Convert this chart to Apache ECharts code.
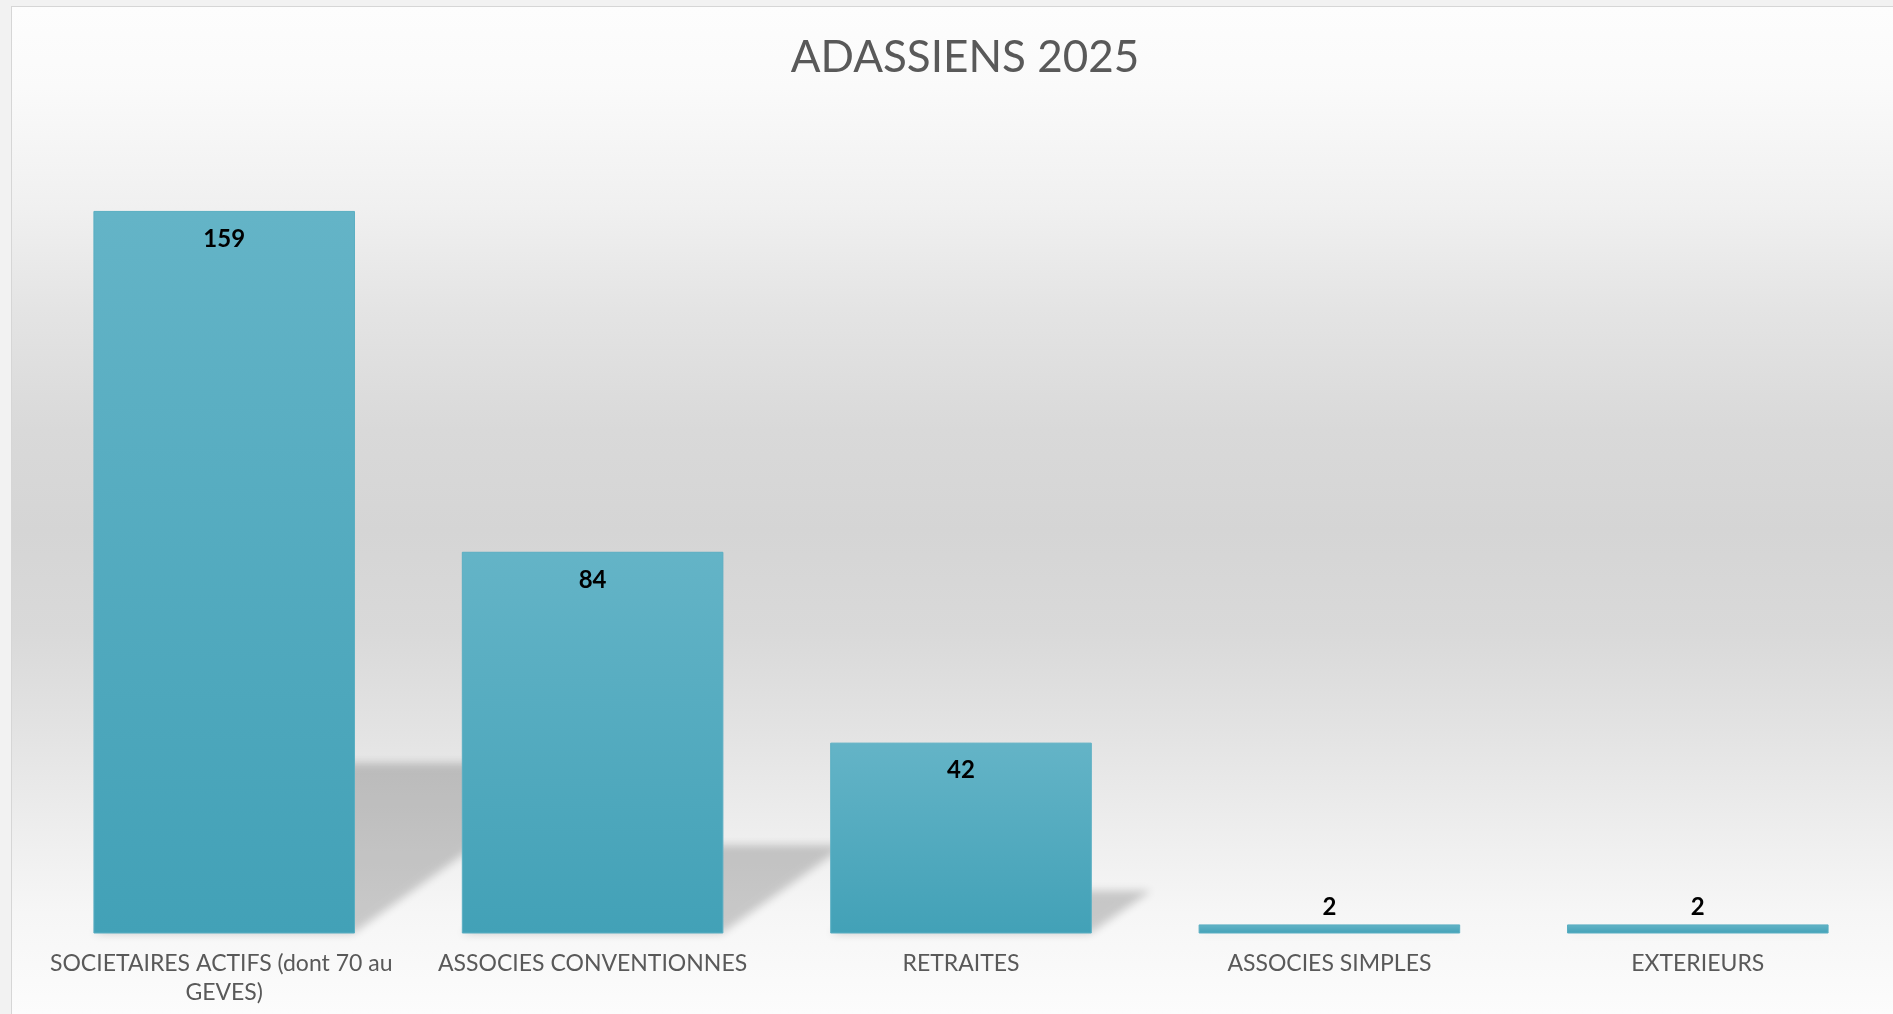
<!DOCTYPE html>
<html>
<head>
<meta charset="utf-8">
<script src="https://cdn.jsdelivr.net/npm/echarts@6/dist/echarts.min.js"></script>
<style>
  html, body { margin: 0; padding: 0; width: 1893px; height: 1014px; overflow: hidden; background: #f2f2f2; }
  #frame { position: absolute; left: 11px; top: 6px; width: 1882px; height: 1008px;
           border-left: 1px solid #d6d6d6; border-top: 1px solid #d6d6d6; box-sizing: border-box; }
  #chart { position: absolute; left: 0; top: 0; width: 1881px; height: 1007px;
           background: linear-gradient(to bottom, #fdfdfd 0%, #fafafa 8%, #f0f0f0 20%, #e4e4e4 30%, #d9d9d9 42%, #d5d5d5 52%, #d9d9d9 62%, #e3e3e3 72%, #eeeeee 82%, #f6f6f6 90%, #fcfcfc 100%); }
</style>
</head>
<body>
<div id="frame"><div id="chart"></div></div>
<script>
const titleText = 'ADASSIENS 2025';
const categories = [
  'SOCIETAIRES ACTIFS (dont 70 au GEVES)',
  'ASSOCIES CONVENTIONNES',
  'RETRAITES',
  'ASSOCIES SIMPLES',
  'EXTERIEURS'
];
const values = [159, 84, 42, 2, 2];

const chart = echarts.init(document.getElementById('chart'), null, { renderer: 'canvas' });

const barFrac = 0.71;
const SHIFT = 4000; // shape drawn off-screen, only its blurred shadow is shown

const option = {
  animation: false,
  backgroundColor: 'transparent',
  title: {
    text: titleText,
    left: 948,
    textAlign: 'center',
    top: 24,
    textStyle: { fontFamily: 'Lato', fontSize: 44, fontWeight: 'normal', color: '#595959' }
  },
  grid: { left: 28, right: 11, top: 108.5, bottom: 80.5, containLabel: false },
  xAxis: {
    type: 'category',
    data: categories,
    axisLine: { show: false },
    axisTick: { show: false },
    axisLabel: {
      interval: 0,
      margin: 16,
      fontFamily: 'Lato',
      fontSize: 23,
      lineHeight: 29,
      color: '#595959',
      width: 360,
      overflow: 'break',
      align: 'center'
    }
  },
  yAxis: {
    type: 'value',
    min: 0,
    max: 180,
    show: false,
    splitLine: { show: false }
  },
  series: [
    {
      type: 'custom',
      silent: true,
      z: 1,
      data: values.map((v, i) => [i, v]),
      encode: { x: 0, y: 1 },
      renderItem: function (params, api) {
        const base = api.coord([api.value(0), 0]);
        const top = api.coord([api.value(0), api.value(1)]);
        const bw = api.size([1, 0])[0] * barFrac;
        const h = base[1] - top[1];
        const sh = h * 0.24;
        const s = sh * 1.38;
        const L = base[0] - bw / 2 + SHIFT, R = base[0] + bw / 2 + SHIFT, y = base[1];
        return {
          type: 'polygon',
          shape: { points: [[L, y], [R - 2, y], [R + s - 4, y - sh + 3], [L + s, y - sh + 3]] },
          style: {
            fill: '#000',
            shadowBlur: 9,
            shadowOffsetX: -SHIFT,
            shadowOffsetY: 0,
            shadowColor: 'rgba(0,0,0,0.19)'
          }
        };
      }
    },
    {
      type: 'bar',
      z: 3,
      barWidth: (barFrac * 100) + '%',
      data: values.map(v => ({
        value: v,
        label: v < 10
          ? { position: 'top', distance: 5 }
          : { position: 'insideTop', distance: 16 }
      })),
      itemStyle: {
        color: new echarts.graphic.LinearGradient(0, 0, 0, 1, [
          { offset: 0, color: '#64b4c7' },
          { offset: 1, color: '#42a1b7' }
        ]),
        borderColor: '#5aaec2',
        borderWidth: 1
      },
      label: {
        show: true,
        fontFamily: 'Lato',
        fontWeight: 'bold',
        fontSize: 24,
        color: '#000000'
      }
    }
  ]
};

chart.setOption(option);
</script>
</body>
</html>
